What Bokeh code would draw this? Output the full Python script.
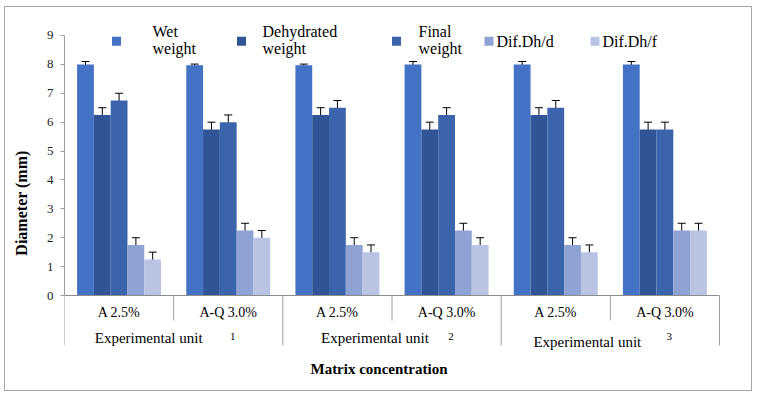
from bokeh.plotting import figure
from bokeh.models import Range1d, FixedTicker, ColumnDataSource, Whisker, TeeHead
from bokeh.core.properties import value
from bokeh.embed import file_html
from bokeh.resources import INLINE

# ---------------- data ----------------
concentrations = ["A 2.5%", "A-Q 3.0%", "A 2.5%", "A-Q 3.0%", "A 2.5%", "A-Q 3.0%"]
units = ["1", "2", "3"]
unit_label = "Experimental unit"
series = ["Wet weight", "Dehydrated weight", "Final weight", "Dif.Dh/d", "Dif.Dh/f"]
legend_lines = [["Wet", "weight"], ["Dehydrated", "weight"], ["Final", "weight"],
                ["Dif.Dh/d"], ["Dif.Dh/f"]]

wet = [8.0, 7.97, 7.97, 8.0, 8.0, 8.0]
wet_err = [0.1, 0.04, 0.04, 0.1, 0.1, 0.1]
dehydrated = [6.25, 5.75, 6.25, 5.75, 6.25, 5.75]
dehydrated_err = [0.25, 0.25, 0.25, 0.25, 0.25, 0.25]
final = [6.75, 6.0, 6.5, 6.25, 6.5, 5.75]
final_err = [0.25, 0.25, 0.25, 0.25, 0.25, 0.25]
dif_d = [1.75, 2.25, 1.75, 2.25, 1.75, 2.25]
dif_d_err = [0.25, 0.25, 0.25, 0.25, 0.25, 0.25]
dif_f = [1.25, 2.0, 1.5, 1.75, 1.5, 2.25]
dif_f_err = [0.25, 0.25, 0.25, 0.25, 0.25, 0.25]

y_ticks = [0, 1, 2, 3, 4, 5, 6, 7, 8, 9]
y_label = "Diameter (mm)"
x_label = "Matrix concentration"

values = [wet, dehydrated, final, dif_d, dif_f]
errors = [wet_err, dehydrated_err, final_err, dif_d_err, dif_f_err]
colors = ["#4472C4", "#2F5597", "#3B64AD", "#8FA2D4", "#B9C3E3"]

# ---------------- layout helpers ----------------
FONT = value("Liberation Serif")
PX_X = 109.17   # pixels per category
PX_Y = 28.89    # pixels per y unit
REF_X0, REF_Y0 = 64.0, 295.0   # reference pixel of data origin


def dx(px):
    return (px - REF_X0) / PX_X


def dy(py):
    return (REF_Y0 - py) / PX_Y


n = len(concentrations)
y_lo, y_hi = dy(385), dy(20)
x_hi = n + 1.0 / PX_X

p = figure(width=748, height=385, output_backend="svg", toolbar_location=None,
           x_range=Range1d(0, x_hi), y_range=Range1d(y_lo, y_hi),
           x_axis_location=None,
           min_border_left=59, min_border_right=748 - 715,
           min_border_top=13, min_border_bottom=7)
p.styles = {"border": "1px solid #a6a6a6", "margin-left": "4px", "margin-top": "6px"}
p.grid.visible = False
p.outline_line_color = None
p.background_fill_color = "white"
p.border_fill_color = "white"

# y axis
ax = p.yaxis[0]
ax.ticker = FixedTicker(ticks=y_ticks)
ax.bounds = (0, 9)
ax.axis_line_color = "#a0a0a0"
ax.major_tick_line_color = "#a0a0a0"
ax.major_tick_out = 4
ax.major_tick_in = 0
ax.minor_tick_line_color = None
ax.major_label_standoff = 7
ax.major_label_text_font = "Liberation Serif"
ax.major_label_text_font_size = "13px"
ax.major_label_text_color = "#222222"
ax.axis_label = y_label
ax.axis_label_text_font = "Liberation Serif"
ax.axis_label_text_font_style = "bold"
ax.axis_label_text_font_size = "16px"
ax.axis_label_text_color = "black"
ax.axis_label_standoff = 14

# bars + error bars
bw = 16.8 / PX_X
for k in range(len(series)):
    xs = [i + 0.5 + (k - 2) * bw for i in range(n)]
    p.vbar(x=xs, bottom=0, top=values[k], width=bw, fill_color=colors[k], line_color=None)
    src = ColumnDataSource(dict(x=xs,
                                lower=[v - e for v, e in zip(values[k], errors[k])],
                                upper=[v + e for v, e in zip(values[k], errors[k])]))
    p.add_layout(Whisker(source=src, base="x", lower="lower", upper="upper",
                         dimension="height", line_color="black", line_width=1,
                         lower_head=TeeHead(size=8, line_color="black", line_width=1),
                         upper_head=TeeHead(size=8, line_color="black", line_width=1)))

# horizontal axis line and category separators
p.segment(x0=[0], y0=[0], x1=[n], y1=[0], line_color="#8c8c8c", line_width=1)
inner = [i for i in range(1, n, 2)]
outer = [i for i in range(0, n + 1, 2)]
p.segment(x0=inner, y0=[0] * len(inner), x1=inner, y1=[dy(320)] * len(inner),
          line_color="#a0a0a0", line_width=1)
p.segment(x0=outer, y0=[0] * len(outer), x1=outer, y1=[dy(345)] * len(outer),
          line_color="#a0a0a0", line_width=1)

# category labels
p.text(x=[i + 0.5 for i in range(n)], y=[dy(311.5)] * n, text=concentrations,
       text_font=FONT, text_font_size="14px", text_align="center",
       text_baseline="middle", text_color="black")

# unit labels
ucenters = [2 * j + 1 for j in range(len(units))]
p.text(x=ucenters, y=[dy(337), dy(337), dy(341)], text=[unit_label] * len(units),
       x_offset=[-25, -17, -23],
       text_font=FONT, text_font_size="15px", text_align="center",
       text_baseline="middle", text_color="black")
p.text(x=ucenters, y=[dy(335.5)] * len(units), text=units, x_offset=[59, 59, 59],
       text_font=FONT, text_font_size="11px", text_align="center",
       text_baseline="middle", text_color="black")

# x axis title
p.text(x=[dx(378.5)], y=[dy(368)], text=[x_label], text_font=FONT,
       text_font_size="15px", text_font_style="bold", text_align="center",
       text_baseline="middle", text_color="black")

# legend
sq_x = [116, 241, 396, 488.5, 594.5]
tx_x = [152, 262, 418, 496, 602]
p.scatter(x=[dx(v) for v in sq_x], y=[dy(40.7)] * len(series), marker="square",
          size=9, fill_color=colors, line_color=None)
lx, ly, lt = [], [], []
for k, lines in enumerate(legend_lines):
    if len(lines) == 2:
        ys = [31, 48]
    else:
        ys = [40.5]
    for t, yy in zip(lines, ys):
        lx.append(dx(tx_x[k]))
        ly.append(dy(yy))
        lt.append(t)
p.text(x=lx, y=ly, text=lt, text_font=FONT, text_font_size="16px",
       text_align="left", text_baseline="middle", text_color="black")

open("out.html", "w").write(file_html(p, INLINE))
